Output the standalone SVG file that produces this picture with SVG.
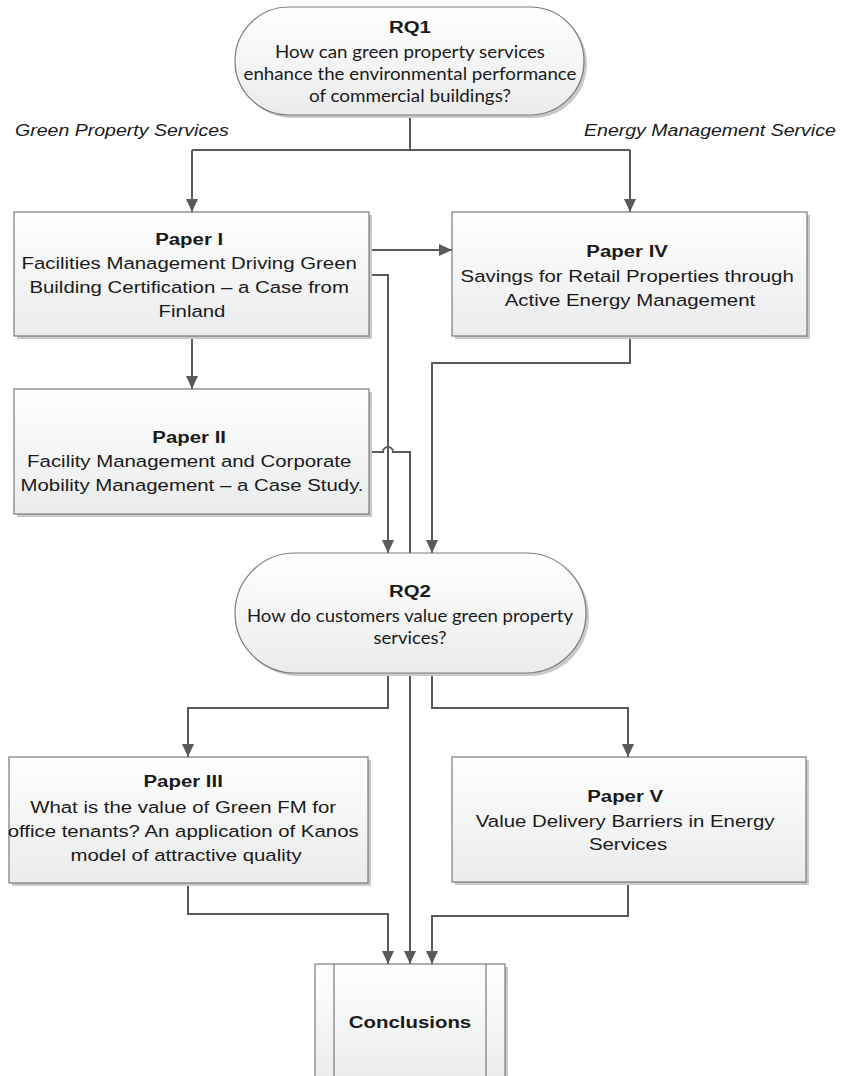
<svg xmlns="http://www.w3.org/2000/svg" width="843" height="1076" viewBox="0 0 843 1076">
<defs>
<linearGradient id="fillg" x1="0" y1="0" x2="0" y2="1">
<stop offset="0" stop-color="#ffffff"/>
<stop offset="1" stop-color="#eaebec"/>
</linearGradient>
<marker id="arr" markerUnits="userSpaceOnUse" markerWidth="14" markerHeight="14" viewBox="0 0 14 14" refX="13" refY="7" orient="auto">
<path d="M0,1 L13,7 L0,13 Z" fill="#5a5a5a"/>
</marker>
</defs>
<style>
.sh{fill:#c9c9c9}
.bx{fill:url(#fillg);stroke:#7a7a7a;stroke-width:1.2}
.cn{fill:none;stroke:#5a5a5a;stroke-width:2}
.ca{fill:none;stroke:#5a5a5a;stroke-width:2;marker-end:url(#arr)}
.t{font-family:"Liberation Sans",Arial,sans-serif;font-size:17px;fill:#1a1a1a;text-anchor:middle}
.b{font-weight:bold}
.c{font-family:Lato,"Open Sans",sans-serif;font-size:18px;fill:#1a1a1a;text-anchor:middle}
.lab{font-family:"Liberation Sans",Arial,sans-serif;font-size:17px;font-style:italic;fill:#1a1a1a}
</style>
<rect width="843" height="1076" fill="#ffffff"/>

<g id="connectors">
<path class="cn" d="M410,115 V150 M192,150 H630"/>
<path class="ca" d="M192,150 V212"/>
<path class="ca" d="M630,150 V212"/>
<path class="ca" d="M369,250 H452"/>
<path class="ca" d="M369,275 H388 V553"/>
<path class="ca" d="M192,336 V389"/>
<path class="ca" d="M369,452 H383 A5,5 0 0 1 393,452 H410 V964"/>
<path class="ca" d="M630,336 V363 H432 V553"/>
<path class="ca" d="M388,673 V708 H188 V757"/>
<path class="ca" d="M432,673 V708 H628 V757"/>
<path class="ca" d="M188,883 V914 H388 V964"/>
<path class="ca" d="M628,882 V916 H432 V964"/>
</g>

<g id="label-gps">
<text class="lab" transform="matrix(1.15,0,0,1,15,136)" x="0" y="0">Green Property Services</text>
</g>
<g id="label-ems">
<text class="lab" transform="matrix(1.15,0,0,1,584,136)" x="0" y="0">Energy Management Service</text>
</g>

<g id="rq1">
<rect class="sh" x="238" y="10" width="349" height="108" rx="54"/>
<rect class="bx" x="235" y="7" width="349" height="108" rx="54"/>
<text class="t b" transform="matrix(1.2,0,0,1,410,0)" x="0" y="33">RQ1</text>
<text class="c" x="410" y="58" textLength="270" lengthAdjust="spacingAndGlyphs">How can green property services</text>
<text class="c" x="410" y="80" textLength="333" lengthAdjust="spacingAndGlyphs">enhance the environmental performance</text>
<text class="c" x="410" y="102" textLength="202" lengthAdjust="spacingAndGlyphs">of commercial buildings?</text>
</g>

<g id="paper1">
<rect class="sh" x="17" y="215" width="355" height="124"/>
<rect class="bx" x="14" y="212" width="355" height="124"/>
<text class="t" transform="matrix(1.2,0,0,1,192,0)">
<tspan class="b" x="0" y="245">Paper I</tspan>
<tspan x="0" y="269">Facilities Management Driving Green</tspan>
<tspan x="0" y="293">Building Certification – a Case from</tspan>
<tspan x="0" y="317">Finland</tspan>
</text>
</g>

<g id="paper4">
<rect class="sh" x="455" y="215" width="355" height="124"/>
<rect class="bx" x="452" y="212" width="355" height="124"/>
<text class="t" transform="matrix(1.2,0,0,1,630,0)">
<tspan class="b" x="0" y="257">Paper IV</tspan>
<tspan x="0" y="282">Savings for Retail Properties through</tspan>
<tspan x="0" y="306">Active Energy Management</tspan>
</text>
</g>

<g id="paper2">
<rect class="sh" x="17" y="392" width="355" height="125"/>
<rect class="bx" x="14" y="389" width="355" height="125"/>
<text class="t" transform="matrix(1.2,0,0,1,192,0)">
<tspan class="b" x="0" y="443">Paper II</tspan>
<tspan x="0" y="467">Facility Management and Corporate</tspan>
<tspan x="0" y="491">Mobility Management – a Case Study.</tspan>
</text>
</g>

<g id="rq2">
<rect class="sh" x="238" y="556" width="351" height="120" rx="60"/>
<rect class="bx" x="235" y="553" width="351" height="120" rx="60"/>
<text class="t b" transform="matrix(1.2,0,0,1,410,0)" x="0" y="597">RQ2</text>
<text class="c" x="410" y="622" textLength="326" lengthAdjust="spacingAndGlyphs">How do customers value green property</text>
<text class="c" x="410" y="644" textLength="73" lengthAdjust="spacingAndGlyphs">services?</text>
</g>

<g id="paper3">
<rect class="sh" x="12" y="760" width="359" height="126"/>
<rect class="bx" x="9" y="757" width="359" height="126"/>
<text class="t" transform="matrix(1.2,0,0,1,186,0)">
<tspan class="b" x="0" y="787">Paper III</tspan>
<tspan x="0" y="813">What is the value of Green FM for</tspan>
<tspan x="0" y="837">office tenants? An application of Kanos</tspan>
<tspan x="0" y="861">model of attractive quality</tspan>
</text>
</g>

<g id="paper5">
<rect class="sh" x="455" y="760" width="354" height="125"/>
<rect class="bx" x="452" y="757" width="354" height="125"/>
<text class="t" transform="matrix(1.2,0,0,1,628,0)">
<tspan class="b" x="0" y="802">Paper V</tspan>
<tspan x="0" y="827">Value Delivery Barriers in Energy</tspan>
<tspan x="0" y="850">Services</tspan>
</text>
</g>

<g id="conclusions">
<rect class="sh" x="318" y="967" width="190" height="120"/>
<rect class="bx" x="315" y="964" width="190" height="120"/>
<path d="M334,964 V1084 M486,964 V1084" stroke="#7a7a7a" stroke-width="1.2" fill="none"/>
<text class="t b" transform="matrix(1.2,0,0,1,410,0)" x="0" y="1028">Conclusions</text>
</g>
</svg>
